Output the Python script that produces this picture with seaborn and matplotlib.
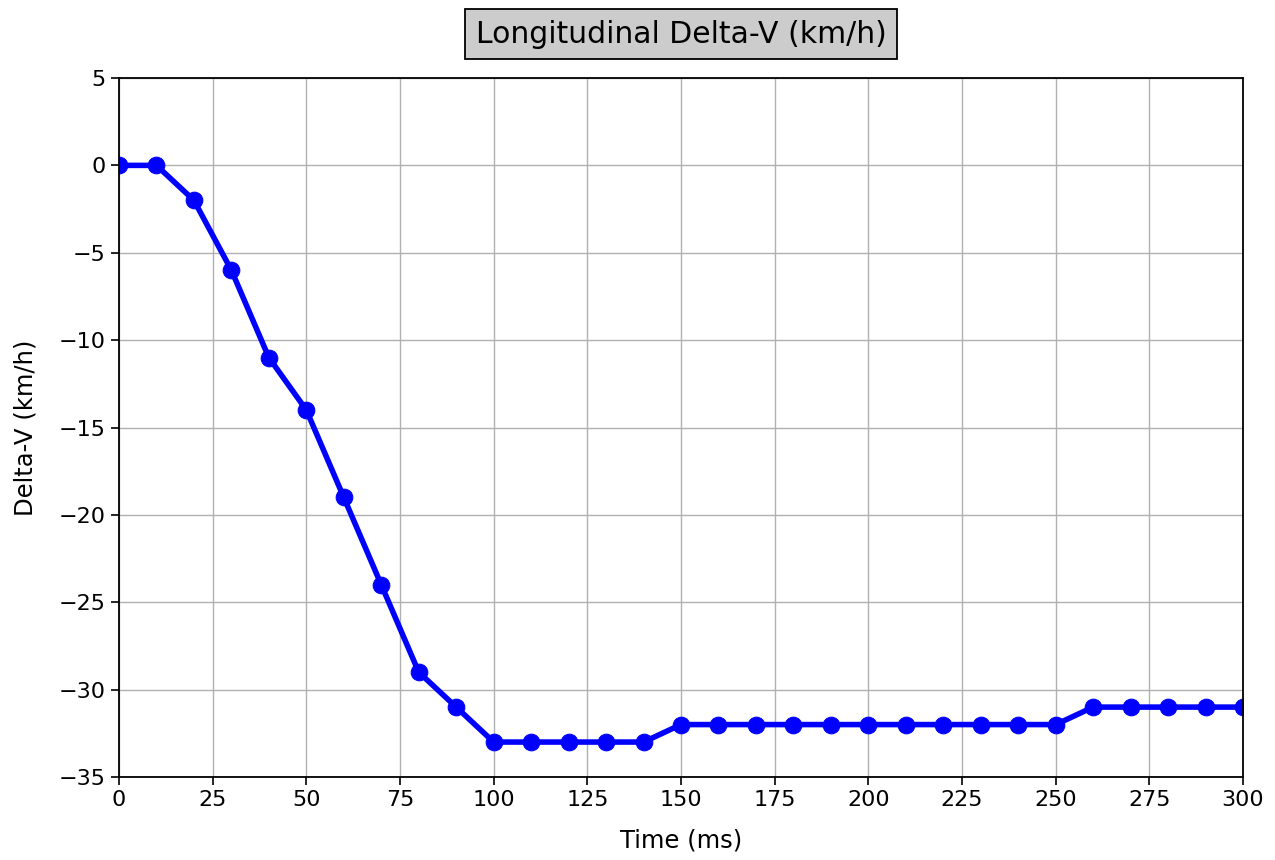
import matplotlib
matplotlib.use("Agg")
import matplotlib.pyplot as plt
import seaborn as sns
import pandas as pd

time_ms = [0, 10, 20, 30, 40, 50, 60, 70, 80, 90, 100, 110, 120, 130, 140, 150,
           160, 170, 180, 190, 200, 210, 220, 230, 240, 250, 260, 270, 280, 290, 300]
delta_v = [0, 0, -2, -6, -11, -14, -19, -24, -29, -31, -33, -33, -33, -33, -33, -32,
           -32, -32, -32, -32, -32, -32, -32, -32, -32, -32, -31, -31, -31, -31, -31]
x_ticks = [0, 25, 50, 75, 100, 125, 150, 175, 200, 225, 250, 275, 300]
y_ticks = [5, 0, -5, -10, -15, -20, -25, -30, -35]

df = pd.DataFrame({"Time (ms)": time_ms, "Delta-V (km/h)": delta_v})

sns.set_style("ticks")
plt.rcParams['font.family'] = ['DejaVu Sans']
plt.rcParams['text.color'] = 'black'
plt.rcParams['axes.labelcolor'] = 'black'
plt.rcParams['xtick.color'] = 'black'
plt.rcParams['ytick.color'] = 'black'

fig = plt.figure(figsize=(12.75, 8.6), dpi=100)
ax = fig.add_axes([119/1275, 1 - 777/860, (1243 - 119)/1275, (777 - 78)/860])

sns.lineplot(data=df, x="Time (ms)", y="Delta-V (km/h)", ax=ax, color="blue",
             marker="o", markersize=12, linewidth=4, markeredgecolor="blue")

ax.set_xlim(0, 300)
ax.set_ylim(-35, 5)
ax.set_xticks(x_ticks)
ax.set_yticks(y_ticks)
ax.grid(True, color="#b0b0b0", linewidth=1.0)
ax.tick_params(axis="both", labelsize=16, length=6, width=1.2, color="black", labelcolor="black")
for s in ax.spines.values():
    s.set_color("black")
    s.set_linewidth(1.3)
ax.set_xlabel("Time (ms)", fontsize=17.5, color="black", labelpad=13)
ax.set_ylabel("Delta-V (km/h)", fontsize=17.5, color="black", labelpad=15)
ax.set_title("Longitudinal Delta-V (km/h)", fontsize=21.5, pad=25.5, color="black",
             bbox=dict(facecolor="#cccccc", edgecolor="black", boxstyle="square,pad=0.35", linewidth=1.3))

fig.savefig("out.png", dpi=100)
